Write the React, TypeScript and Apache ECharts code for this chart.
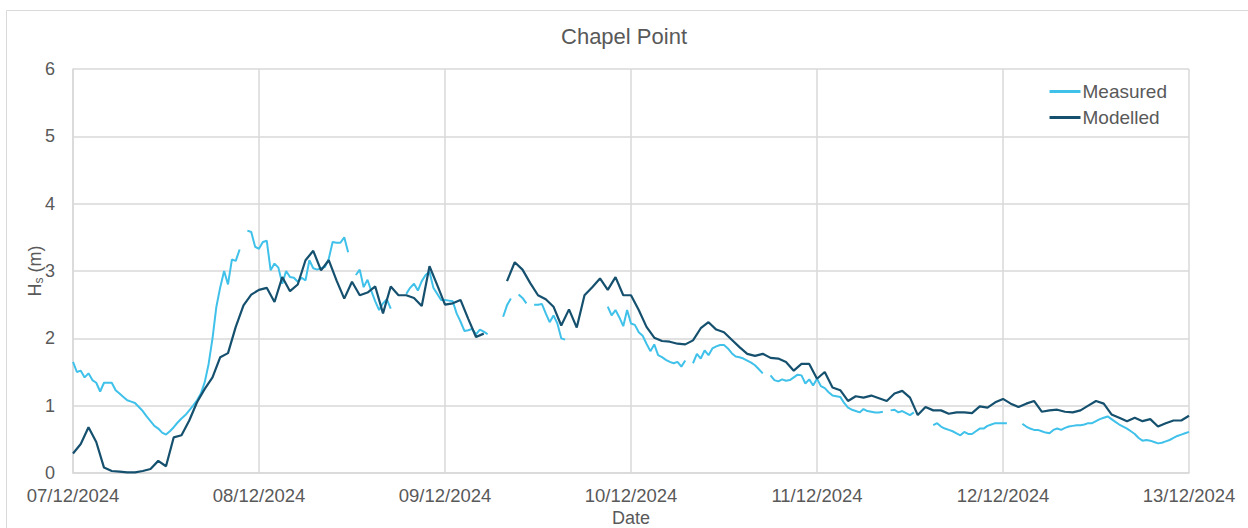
import React, { useEffect, useRef } from "react";
import * as echarts from "echarts";

const dateLabels = ["07/12/2024", "08/12/2024", "09/12/2024", "10/12/2024", "11/12/2024", "12/12/2024", "13/12/2024"];
const yTicks = [0, 1, 2, 3, 4, 5, 6];

// Measured Hs, every 30 minutes from 07/12/2024 00:00
const measuredStepHours = 0.5;
const measured: (number | null)[] = [
  1.65, 1.50, 1.52, 1.42, 1.48, 1.38, 1.34, 1.21, 1.34, 1.34, 1.34, 1.23,
  1.18, 1.13, 1.08, 1.06, 1.04, 0.98, 0.92, 0.84, 0.77, 0.70, 0.66, 0.60,
  0.57, 0.62, 0.68, 0.75, 0.81, 0.86, 0.93, 1.00, 1.08, 1.18, 1.35, 1.62,
  2.00, 2.47, 2.76, 3.00, 2.80, 3.17, 3.15, 3.32, null, 3.60, 3.58, 3.36,
  3.33, 3.43, 3.45, 3.01, 3.11, 3.05, 2.81, 3.00, 2.91, 2.90, 2.84, 2.90,
  2.86, 3.16, 3.04, 3.02, 3.04, 3.06, 3.18, 3.43, 3.42, 3.42, 3.50, 3.28,
  null, 2.94, 3.02, 2.76, 2.87, 2.70, 2.55, 2.42, 2.52, 2.58, 2.44, null,
  null, null, 2.66, 2.75, 2.81, 2.71, 2.85, 2.94, 2.99, 2.75, 2.66, 2.57,
  2.57, 2.56, 2.55, 2.37, 2.25, 2.11, 2.12, 2.14, 2.06, 2.13, 2.10, 2.06,
  null, null, null, 2.32, 2.49, 2.59, null, 2.65, 2.60, 2.52, null, 2.50,
  2.50, 2.51, 2.37, 2.24, 2.34, 2.22, 2.00, 1.98, null, null, null, null,
  null, null, null, null, null, null, 2.47, 2.34, 2.42, 2.31, 2.18, 2.42,
  2.22, 2.20, 2.09, 2.04, 1.92, 1.81, 1.91, 1.75, 1.72, 1.68, 1.65, 1.63,
  1.65, 1.58, 1.67, null, 1.63, 1.77, 1.70, 1.82, 1.75, 1.85, 1.88, 1.90,
  1.90, 1.85, 1.78, 1.73, 1.72, 1.70, 1.67, 1.64, 1.60, 1.54, 1.48, null,
  1.45, 1.38, 1.36, 1.39, 1.37, 1.38, 1.42, 1.46, 1.45, 1.33, 1.39, 1.30,
  1.40, 1.29, 1.26, 1.20, 1.15, 1.14, 1.13, 1.04, 0.97, 0.94, 0.92, 0.90,
  0.95, 0.92, 0.91, 0.90, 0.90, 0.91, null, 0.93, 0.94, 0.90, 0.92, 0.89,
  0.86, 0.90, null, null, null, null, 0.71, 0.74, 0.69, 0.66, 0.64, 0.62,
  0.59, 0.56, 0.61, 0.58, 0.58, 0.62, 0.66, 0.66, 0.70, 0.72, 0.74, 0.74,
  0.74, 0.74, null, null, null, 0.73, 0.69, 0.66, 0.64, 0.64, 0.62, 0.60,
  0.59, 0.64, 0.66, 0.64, 0.67, 0.69, 0.70, 0.71, 0.71, 0.72, 0.74, 0.74,
  0.77, 0.80, 0.82, 0.84, 0.80, 0.76, 0.72, 0.69, 0.66, 0.62, 0.58, 0.52,
  0.48, 0.49, 0.48, 0.46, 0.44, 0.45, 0.47, 0.49, 0.52, 0.55, 0.57, 0.59,
  0.61,
];

// Modelled Hs, hourly from 07/12/2024 00:00
const modelledStepHours = 1;
const modelled: (number | null)[] = [
  0.29, 0.43, 0.68, 0.46, 0.08, 0.03, 0.02, 0.01, 0.01, 0.03, 0.06, 0.18,
  0.10, 0.53, 0.56, 0.78, 1.05, 1.25, 1.42, 1.72, 1.78, 2.17, 2.49, 2.65,
  2.72, 2.75, 2.54, 2.91, 2.70, 2.80, 3.16, 3.30, 3.01, 3.16, 2.86, 2.59,
  2.84, 2.64, 2.68, 2.77, 2.37, 2.77, 2.64, 2.64, 2.60, 2.48, 3.07, 2.79,
  2.50, 2.52, 2.57, 2.29, 2.02, 2.07, null, null, 2.85, 3.13, 3.02, 2.82,
  2.64, 2.58, 2.47, 2.19, 2.43, 2.16, 2.64, 2.76, 2.89, 2.72, 2.91, 2.64,
  2.64, 2.42, 2.17, 2.01, 1.96, 1.95, 1.92, 1.91, 1.97, 2.15, 2.24, 2.13,
  2.09, 1.98, 1.87, 1.77, 1.74, 1.77, 1.71, 1.70, 1.65, 1.52, 1.62, 1.62,
  1.40, 1.50, 1.27, 1.23, 1.07, 1.14, 1.12, 1.15, 1.11, 1.07, 1.18, 1.22,
  1.12, 0.86, 0.98, 0.93, 0.93, 0.88, 0.90, 0.90, 0.89, 0.99, 0.97, 1.05,
  1.10, 1.03, 0.98, 1.03, 1.07, 0.91, 0.93, 0.94, 0.91, 0.90, 0.93, 1.00,
  1.07, 1.03, 0.87, 0.82, 0.77, 0.82, 0.77, 0.80, 0.69, 0.74, 0.78, 0.78,
  0.85,
];

const toPairs = (vals: (number | null)[], step: number) =>
  vals.map((v, i) => [i * step, v === null ? null : v]);

const TEXT = "#595959";
const GRID = "#d9d9d9";
const FONT = "Liberation Sans, Arial, sans-serif";

export default function App() {
  const ref = useRef<HTMLDivElement>(null);
  useEffect(() => {
    if (!ref.current) return;
    const chart = echarts.init(ref.current, null, { renderer: "svg" });
    chart.setOption({
      animation: false,
      backgroundColor: "#ffffff",
      textStyle: { fontFamily: FONT },
      title: {
        text: "Chapel Point",
        left: "center",
        top: 20,
        textStyle: { fontSize: 22, fontWeight: "normal", color: TEXT, fontFamily: FONT },
      },
      graphic: [
        {
          type: "rect",
          shape: { x: 6.5, y: 10.5, width: 1400, height: 700 },
          style: { fill: "none", stroke: GRID, lineWidth: 1 },
          silent: true,
          z: -10,
        },
      ],
      legend: {
        orient: "vertical",
        right: 76,
        top: 77,
        itemWidth: 31,
        itemHeight: 3,
        itemGap: 7,
        icon: "rect",
        textStyle: { fontSize: 19, color: TEXT, fontFamily: FONT, padding: [0, 0, 0, -3] },
        data: ["Measured", "Modelled"],
      },
      grid: {
        left: 73,
        right: 59,
        top: 69,
        bottom: 55,
        containLabel: false,
        outerBoundsMode: "none",
      },
      xAxis: {
        type: "value",
        min: 0,
        max: 144,
        interval: 24,
        name: "Date",
        nameLocation: "middle",
        nameGap: 36,
        nameMoveOverlap: false,
        nameTextStyle: { fontSize: 18, color: TEXT, fontFamily: FONT },
        axisLine: { show: true, lineStyle: { color: GRID, width: 1.5 } },
        axisTick: { show: false },
        splitLine: { show: true, lineStyle: { color: GRID, width: 1.5 } },
        axisLabel: {
          fontSize: 18.5,
          color: TEXT,
          fontFamily: FONT,
          margin: 13,
          formatter: (v: number) => dateLabels[Math.round(v / 24)] ?? "",
        },
      },
      yAxis: {
        type: "value",
        min: yTicks[0],
        max: yTicks[yTicks.length - 1],
        interval: 1,
        name: "{a|H}{b|s}{a| (m)}",
        nameLocation: "middle",
        nameRotate: 90,
        nameGap: 28,
        nameMoveOverlap: false,
        nameTextStyle: {
          color: TEXT,
          fontFamily: FONT,
          rich: {
            a: { fontSize: 18, color: TEXT, fontFamily: FONT },
            b: { fontSize: 12, color: TEXT, fontFamily: FONT, padding: [9, 0, 0, 0] },
          },
        },
        axisLine: { show: true, lineStyle: { color: GRID, width: 1.5 } },
        axisTick: { show: false },
        splitLine: { show: true, lineStyle: { color: GRID, width: 1.5 } },
        axisLabel: { fontSize: 18, color: TEXT, fontFamily: FONT, margin: 18 },
      },
      series: [
        {
          name: "Measured",
          type: "line",
          data: toPairs(measured, measuredStepHours),
          showSymbol: false,
          connectNulls: false,
          lineStyle: { color: "#3fc1ea", width: 2 },
          itemStyle: { color: "#3fc1ea" },
          z: 2,
        },
        {
          name: "Modelled",
          type: "line",
          data: toPairs(modelled, modelledStepHours),
          showSymbol: false,
          connectNulls: false,
          lineStyle: { color: "#15506e", width: 2.2 },
          itemStyle: { color: "#15506e" },
          z: 3,
        },
      ],
    });
    return () => chart.dispose();
  }, []);
  return (
    <div
      ref={ref}
      style={{ position: "fixed", left: 0, top: 0, width: 1248, height: 528 }}
    />
  );
}
